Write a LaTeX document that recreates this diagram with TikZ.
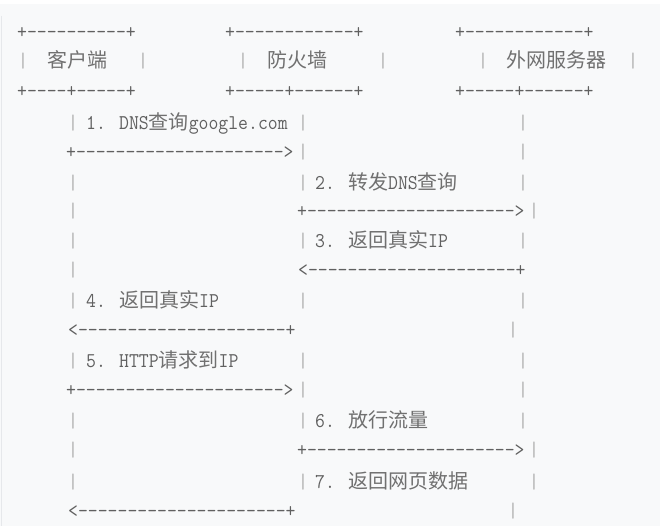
\documentclass[tikz,border=0pt]{standalone}
\usepackage{fontspec}
\newfontfamily\asciifont{Latin Modern Mono}[Ligatures=TeXOff, FakeStretch=0.914]
\newfontfamily\cjkfont{Noto Sans CJK SC}
\newcommand{\zh}[1]{{\cjkfont\fontsize{20}{24}\selectfont\color{cjkgray}#1}}

\definecolor{codebg}{HTML}{F8F9FA}
\definecolor{codeedge}{HTML}{E6E8EB}
\definecolor{inkgray}{HTML}{606060}
\definecolor{cjkgray}{HTML}{707070}
\definecolor{bargray}{HTML}{ABABAB}

\tikzset{
    ascii/.style={font=\asciifont\fontsize{21}{24}\selectfont, text=inkgray,
        inner sep=0pt, anchor=base west},
    bar/.style={ascii, text=bargray, anchor=base},
}

\begin{document}
\begin{tikzpicture}[x=1pt, y=-1pt]
        % Draw background
        \fill[codebg] (0,0) rectangle (660,526);
        \fill[white] (0,0) rectangle (660,4);
        \draw[codeedge, line width=1.5pt] (1.5,16) -- (1.5,526);
        \useasboundingbox (0,0) rectangle (660,526);
        % Draw the three boxes
            \node[ascii] (clitop) at (17,39) {+----------+};
            \node[ascii] (fwtop) at (225,39) {+------------+};
            \node[ascii] (srvtop) at (455,39) {+------------+};
            \node[bar] (clil) at (23,68) {|};
            \node[ascii] (cli) at (47,68) {\zh{客户端}};
            \node[bar] (clir) at (143,68) {|};
            \node[bar] (fwl) at (243,68) {|};
            \node[ascii] (fw) at (267,68) {\zh{防火墙}};
            \node[bar] (fwr) at (383,68) {|};
            \node[bar] (srvl) at (483,68) {|};
            \node[ascii] (srv) at (506,68) {\zh{外网服务器}};
            \node[bar] (srvr) at (633,68) {|};
            \node[ascii] (clibot) at (17,97) {+----+-----+};
            \node[ascii] (fwbot) at (225,97) {+-----+------+};
            \node[ascii] (srvbot) at (455,97) {+-----+------+};
        % Draw the life lines
            \foreach \y [count=\i] in {129,189,217,247,276,307,367,427,456,488}
                \node[bar] (lc\i) at (73,\y) {|};
            \foreach \y [count=\i] in {129,158,189,247,307,367,396,427,488}
                \node[bar] (lf\i) at (303,\y) {|};
            \foreach \y [count=\i] in {129,158,189,247,307,367,396,427}
                \node[bar] (ls\i) at (523,\y) {|};
            \foreach \y [count=\i] in {217,456,488}
                \node[bar] (lsr\i) at (534,\y) {|};
            \foreach \y [count=\i] in {336,517}
                \node[bar] (lsl\i) at (513,\y) {|};
        % Add the messages
            \node[ascii] (m1) at (86,129) {1. DNS\zh{查询}google.com};
            \node[ascii] (a1) at (66,158) {+--------------------->};
            \node[ascii] (m2) at (315,189) {2. \zh{转发}DNS\zh{查询}};
            \node[ascii] (a2) at (297,217) {+--------------------->};
            \node[ascii] (m3) at (315,247) {3. \zh{返回真实}IP};
            \node[ascii] (a3) at (298,276) {<---------------------+};
            \node[ascii] (m4) at (86,307) {4. \zh{返回真实}IP};
            \node[ascii] (a4) at (68,336) {<---------------------+};
            \node[ascii] (m5) at (86,367) {5. HTTP\zh{请求到}IP};
            \node[ascii] (a5) at (66,396) {+--------------------->};
            \node[ascii] (m6) at (315,427) {6. \zh{放行流量}};
            \node[ascii] (a6) at (297,456) {+--------------------->};
            \node[ascii] (m7) at (315,488) {7. \zh{返回网页数据}};
            \node[ascii] (a7) at (68,517) {<---------------------+};
    \end{tikzpicture}
\end{document}
